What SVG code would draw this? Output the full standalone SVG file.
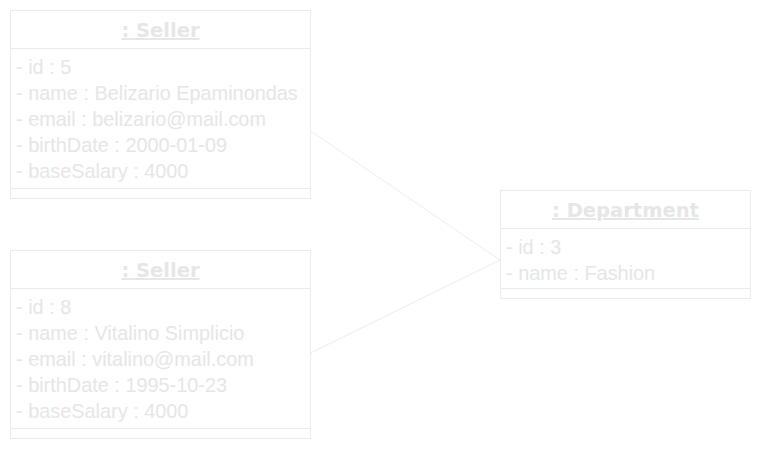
<svg xmlns="http://www.w3.org/2000/svg" width="762" height="449" viewBox="0 0 762 449">
<style>
.box{fill:#ffffff;stroke:#ebebeb;stroke-width:1}
.sep{stroke:#ebebeb;stroke-width:1}
.hdr{font-family:"DejaVu Sans",Verdana,sans-serif;font-weight:bold;font-size:19.5px;fill:#e6e6e6;text-anchor:middle;text-decoration:underline}
.att{font-family:"Liberation Sans",Arial,sans-serif;font-size:19.5px;fill:#e6e6e6}
.conn{stroke:#ececec;stroke-width:1;fill:none}
</style>
<rect width="762" height="449" fill="#ffffff"/>
<g id="connectors">
<line class="conn" x1="310.5" y1="131" x2="500" y2="260"/>
<line class="conn" x1="310.5" y1="353" x2="500" y2="260"/>
</g>
<g id="seller1">
<rect class="box" x="10.5" y="10.5" width="300" height="188"/>
<line class="sep" x1="10.5" y1="48.5" x2="310.5" y2="48.5"/>
<line class="sep" x1="10.5" y1="188.5" x2="310.5" y2="188.5"/>
<text class="hdr" x="160.5" y="37">: Seller</text>
<g transform="translate(16,0) scale(1.02,1)">
<text class="att" x="0" y="74">- id : 5</text>
<text class="att" x="0" y="100">- name : Belizario Epaminondas</text>
<text class="att" x="0" y="126">- email : belizario@mail.com</text>
<text class="att" x="0" y="152">- birthDate : 2000-01-09</text>
<text class="att" x="0" y="178">- baseSalary : 4000</text>
</g>
</g>
<g id="seller2">
<rect class="box" x="10.5" y="250.5" width="300" height="188"/>
<line class="sep" x1="10.5" y1="288.5" x2="310.5" y2="288.5"/>
<line class="sep" x1="10.5" y1="428.5" x2="310.5" y2="428.5"/>
<text class="hdr" x="160.5" y="277">: Seller</text>
<g transform="translate(16,0) scale(1.02,1)">
<text class="att" x="0" y="314">- id : 8</text>
<text class="att" x="0" y="340">- name : Vitalino Simplicio</text>
<text class="att" x="0" y="366">- email : vitalino@mail.com</text>
<text class="att" x="0" y="392">- birthDate : 1995-10-23</text>
<text class="att" x="0" y="418">- baseSalary : 4000</text>
</g>
</g>
<g id="department">
<rect class="box" x="500.5" y="190.5" width="250" height="108"/>
<line class="sep" x1="500.5" y1="228.5" x2="750.5" y2="228.5"/>
<line class="sep" x1="500.5" y1="288.5" x2="750.5" y2="288.5"/>
<text class="hdr" x="625.5" y="217">: Department</text>
<g transform="translate(506,0) scale(1.02,1)">
<text class="att" x="0" y="254">- id : 3</text>
<text class="att" x="0" y="280">- name : Fashion</text>
</g>
</g>
</svg>
